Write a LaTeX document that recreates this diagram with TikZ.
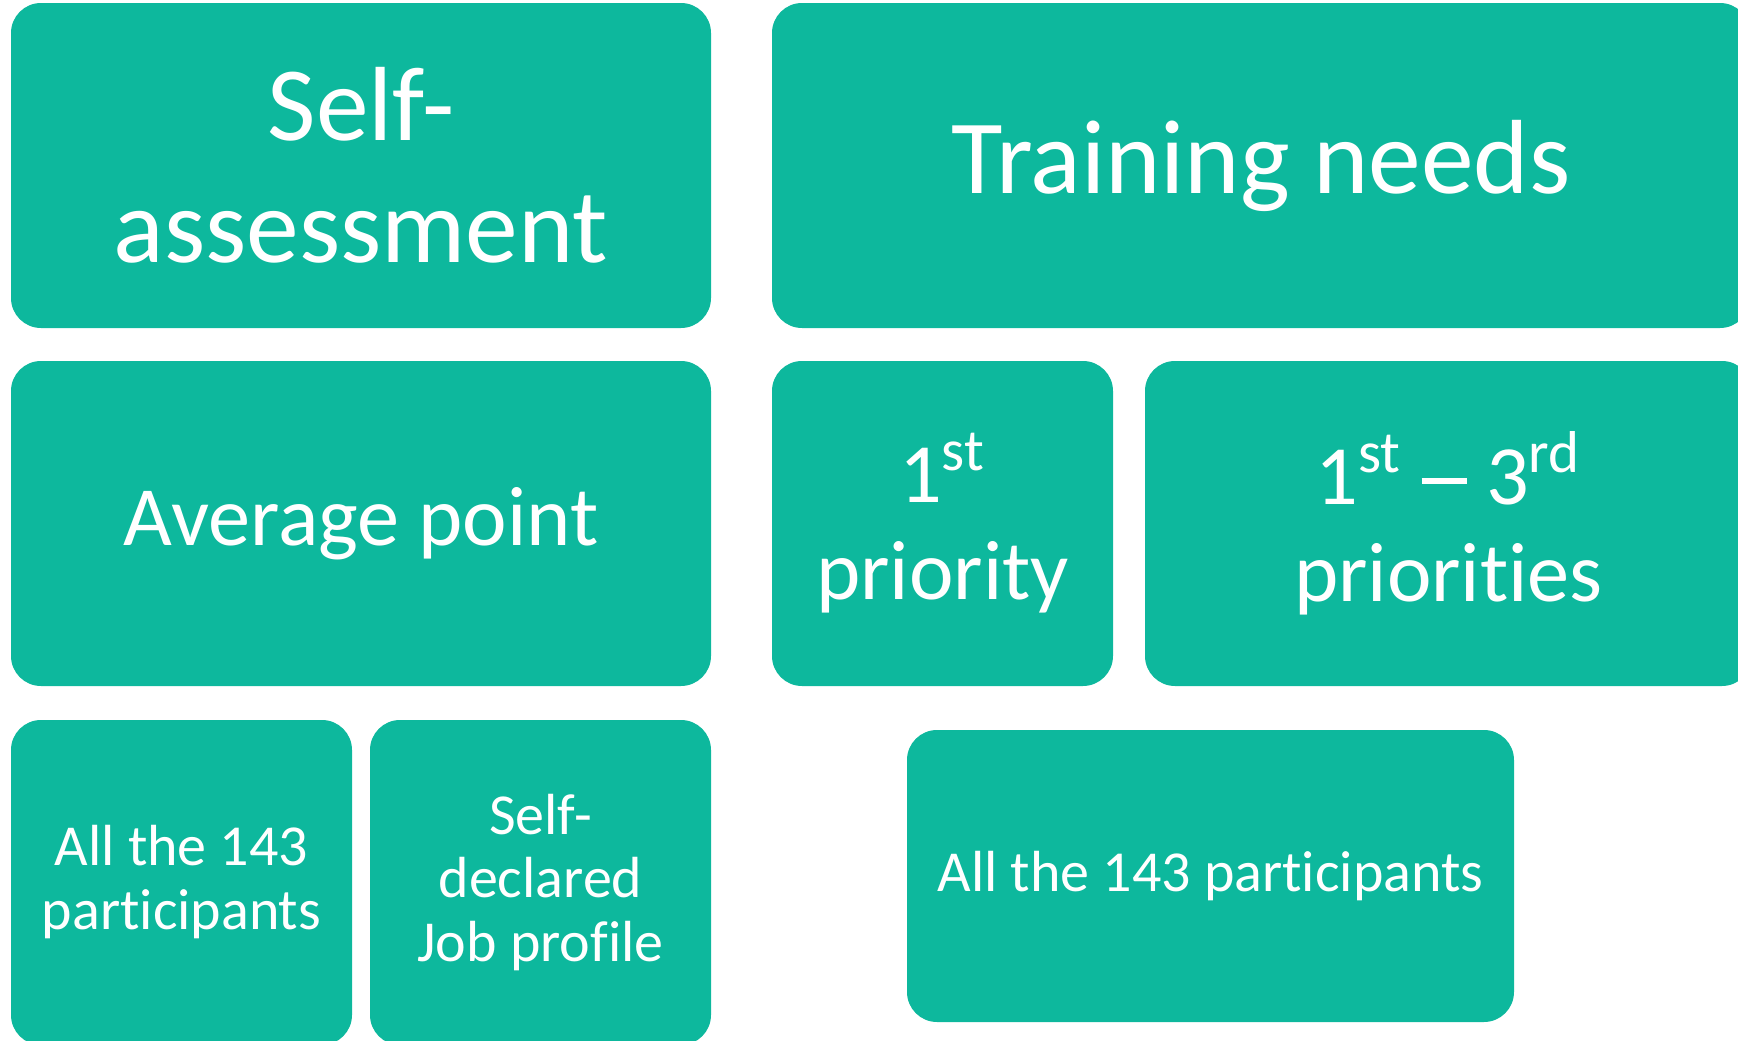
\documentclass[tikz,border=0pt]{standalone}
\usepackage{fontspec}
\setmainfont{Carlito}[Ligatures=NoCommon]
\usepackage{tikz}
\definecolor{tealbox}{RGB}{13,184,157}
\newcommand{\longdash}{\hspace{5.5pt}\rule[5.7pt]{12.8pt}{1.8pt}\hspace{5.5pt}}

\begin{document}
\begin{tikzpicture}[x=0.1mm,y=-0.1mm,
    cell/.style={fill=tealbox,rounded corners=3mm,text=white,align=center,
        inner sep=0pt,minimum height=32.5mm},
    big/.style={font=\fontsize{30}{34.7}\selectfont},
    mid/.style={font=\fontsize{24}{27.7}\selectfont},
    small/.style={font=\fontsize{16.5}{18.2}\selectfont}]
    \useasboundingbox (0,0) rectangle (1738,1041);
    \clip (0,0) rectangle (1738,1041);
    % top row: the two headings
    \node[cell,big,minimum width=70mm]   (self)  at (361,165.5)  {Self-\\assessment};
    \node[cell,big,minimum width=97.8mm] (needs) at (1261,165.5) {Training needs};
    % middle row
    \node[cell,mid,minimum width=70mm]   (avg)   at (361,523.5)  {Average point};
    \node[cell,mid,minimum width=34.1mm] (first) at (942.5,523.5) {1\textsuperscript{st}\\priority};
    \node[cell,mid,minimum width=60.7mm] (three) at (1448.5,523.5) {1\textsuperscript{st}\longdash 3\textsuperscript{rd}\\priorities};
    % bottom row: who was counted
    \node[cell,small,minimum width=34.1mm] (all)  at (181.5,882.5) {All the 143\\participants};
    \node[cell,small,minimum width=34.1mm] (job)  at (540.5,882.5) {Self-\\declared\\Job profile};
    \node[cell,small,minimum width=60.7mm,minimum height=29.2mm] (allb) at (1210.5,876) {All the 143 participants};
\end{tikzpicture}
\end{document}
